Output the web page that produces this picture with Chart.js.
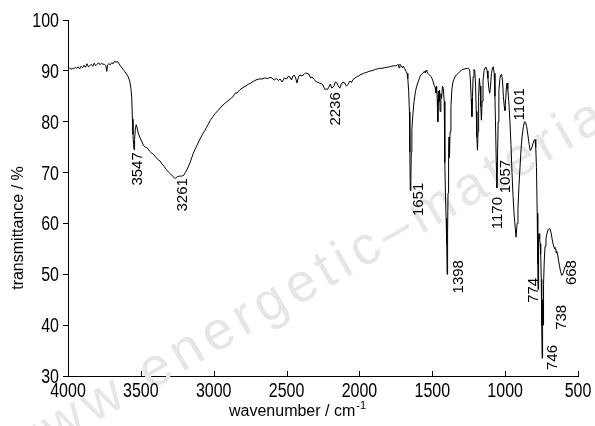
<!DOCTYPE html>
<html>
<head>
<meta charset="utf-8">
<script src="https://cdn.jsdelivr.net/npm/chart.js@4.4.1/dist/chart.umd.min.js"></script>
<style>
  html, body { margin: 0; padding: 0; background: #fff; }
</style>
</head>
<body>
<canvas id="irChart" width="595" height="426"></canvas>
<script>
// IR spectrum (wavenumber in cm-1, transmittance in %)
const wavenumber = [
  4000, 3990, 3980, 3970, 3960, 3950, 3940, 3930, 3920, 3910, 3900, 3890, 3880, 3870, 3860, 3850,
  3840, 3830, 3820, 3810, 3800, 3790, 3780, 3770, 3760, 3750, 3740, 3734, 3728, 3720, 3710, 3700,
  3690, 3680, 3670, 3660, 3650, 3640, 3630, 3620, 3609, 3595, 3586, 3575, 3568, 3563, 3558, 3554,
  3550, 3547, 3543, 3538, 3532, 3526, 3518, 3508, 3495, 3483, 3470, 3460, 3451, 3440, 3425, 3410,
  3400, 3391, 3380, 3369, 3355, 3340, 3325, 3310, 3295, 3279, 3268, 3261, 3250, 3235, 3220, 3205,
  3195, 3183, 3172, 3163, 3150, 3140, 3128, 3117, 3105, 3094, 3083, 3073, 3060, 3050, 3039, 3025,
  3015, 3005, 2990, 2971, 2955, 2936, 2920, 2902, 2885, 2868, 2857, 2850, 2840, 2830, 2820, 2800,
  2780, 2760, 2751, 2730, 2710, 2690, 2670, 2650, 2630, 2614, 2600, 2585, 2570, 2555, 2545, 2530,
  2515, 2500, 2490, 2477, 2466, 2456, 2445, 2436, 2428, 2418, 2408, 2395, 2380, 2370, 2360, 2345,
  2335, 2326, 2310, 2300, 2291, 2275, 2262, 2250, 2240, 2236, 2228, 2220, 2210, 2200, 2189, 2175,
  2165, 2154, 2145, 2134, 2125, 2113, 2100, 2090, 2079, 2065, 2055, 2044, 2030, 2015, 2005, 1996,
  1980, 1965, 1950, 1935, 1920, 1907, 1890, 1875, 1860, 1845, 1830, 1811, 1795, 1780, 1765, 1750,
  1742, 1735, 1728, 1722, 1715, 1710, 1705, 1700, 1690, 1680, 1673, 1668, 1662, 1657, 1654, 1651,
  1647, 1644, 1640, 1633, 1625, 1615, 1607, 1595, 1584, 1575, 1563, 1555, 1549, 1543, 1537, 1530,
  1520, 1510, 1502, 1495, 1488, 1481, 1475, 1470, 1466, 1462, 1458, 1454, 1450, 1446, 1441, 1436,
  1430, 1424, 1418, 1414, 1410, 1405, 1401, 1398, 1395, 1392, 1388, 1385, 1382, 1378, 1372, 1365,
  1358, 1345, 1335, 1323, 1310, 1300, 1289, 1275, 1260, 1250, 1244, 1238, 1233, 1228, 1224, 1220,
  1214, 1208, 1203, 1198, 1194, 1190, 1186, 1182, 1177, 1172, 1167, 1163, 1158, 1152, 1145, 1138,
  1130, 1124, 1118, 1112, 1106, 1100, 1094, 1087, 1081, 1075, 1070, 1065, 1061, 1057, 1053, 1048,
  1043, 1036, 1030, 1024, 1018, 1012, 1006, 1001, 996, 991, 987, 982, 975, 967, 960, 953,
  946, 939, 932, 925, 918, 912, 905, 898, 891, 884, 875, 867, 860, 852, 843, 835,
  829, 823, 816, 808, 800, 795, 790, 785, 780, 776, 774, 772, 769, 766, 763, 760,
  756, 752, 749, 746, 744, 742, 740, 738, 735, 731, 726, 720, 713, 705, 698, 692,
  685, 678, 670, 664, 658, 652, 650, 648, 644, 636, 628, 620, 612, 606, 600, 594,
  589, 583, 577
];
const transmittance = [
  90.4, 90.6, 90.3, 90.5, 90.4, 90.7, 90.5, 90.8, 90.4, 90.9, 90.6, 91.1, 90.7, 91.4, 90.8, 91.0,
  91.3, 90.9, 91.5, 91.0, 91.3, 91.6, 91.2, 91.5, 91.3, 91.3, 91.0, 89.9, 91.2, 91.4, 91.2, 91.6,
  91.4, 91.9, 91.7, 91.8, 91.4, 91.0, 90.6, 90.2, 89.8, 89.2, 88.8, 87.8, 86.5, 84.9, 80.5, 77.5,
  75.5, 74.5, 76.5, 78.5, 79.4, 78.8, 77.8, 77.0, 76.2, 75.4, 75.0, 74.9, 74.7, 74.2, 73.8, 73.5,
  73.1, 72.8, 72.5, 72.3, 71.7, 71.2, 70.6, 70.1, 69.7, 69.2, 68.9, 68.9, 69.2, 69.3, 69.3, 69.5,
  70.0, 70.6, 71.3, 71.9, 73.0, 73.8, 74.6, 75.2, 76.0, 76.6, 77.2, 77.7, 78.3, 78.9, 79.4, 80.2,
  80.6, 81.0, 81.6, 82.2, 82.7, 83.3, 83.7, 84.1, 84.5, 84.9, 85.4, 85.7, 85.6, 86.0, 86.3, 86.7,
  87.0, 87.4, 87.5, 87.9, 88.2, 88.4, 88.4, 88.6, 88.5, 88.7, 88.6, 88.2, 88.5, 88.1, 88.4, 87.8,
  88.6, 88.4, 88.9, 88.8, 88.2, 89.0, 89.1, 88.4, 87.6, 88.9, 89.2, 89.0, 89.3, 89.6, 89.5, 89.3,
  88.6, 88.8, 88.3, 87.9, 87.8, 87.6, 87.5, 87.2, 86.5, 86.3, 86.5, 86.3, 86.8, 87.4, 86.6, 87.0,
  87.8, 87.6, 87.0, 86.6, 87.4, 87.8, 87.6, 87.0, 87.3, 88.0, 87.7, 88.3, 88.6, 88.9, 89.0, 89.2,
  89.4, 89.6, 89.7, 89.9, 90.0, 90.1, 90.3, 90.4, 90.5, 90.5, 90.6, 90.7, 90.8, 90.9, 91.0, 91.0,
  91.1, 91.3, 90.6, 91.3, 91.0, 90.9, 90.6, 90.9, 90.5, 89.9, 89.5, 88.5, 86.0, 82.0, 74.0, 66.5,
  68.5, 74.0, 78.5, 81.5, 84.0, 86.0, 87.0, 88.0, 88.9, 89.3, 89.6, 89.9, 89.6, 90.1, 89.9, 89.5,
  89.2, 88.9, 88.5, 88.0, 87.2, 86.8, 85.7, 87.0, 84.5, 80.0, 86.0, 84.0, 86.2, 82.0, 85.5, 84.6,
  87.0, 86.5, 84.0, 72.0, 66.0, 61.0, 56.0, 50.0, 58.0, 66.0, 74.0, 77.0, 73.0, 78.0, 83.0, 86.5,
  87.8, 88.8, 89.2, 89.5, 89.9, 90.1, 90.3, 90.4, 90.5, 90.5, 90.2, 88.0, 84.5, 81.0, 85.0, 88.8,
  90.3, 90.0, 87.0, 82.0, 77.0, 74.4, 78.0, 85.0, 88.5, 87.0, 83.0, 80.3, 84.0, 88.0, 90.0, 90.6,
  90.7, 90.0, 88.5, 86.5, 85.6, 87.0, 89.5, 90.6, 90.8, 89.5, 85.0, 78.0, 72.0, 67.0, 72.0, 80.0,
  86.0, 88.5, 89.2, 89.3, 88.0, 85.0, 83.0, 82.2, 84.5, 87.0, 87.6, 86.5, 84.0, 80.0, 75.5, 70.0,
  65.5, 62.0, 59.5, 57.3, 60.0, 63.0, 67.5, 71.0, 74.5, 77.0, 79.0, 80.0, 79.9, 79.0, 77.2, 75.5,
  74.4, 74.5, 75.0, 75.8, 76.4, 76.5, 75.0, 71.0, 62.0, 52.0, 47.0, 53.0, 57.5, 58.0, 57.0, 56.0,
  54.0, 49.0, 40.0, 33.5, 38.0, 45.0, 42.0, 40.0, 48.0, 53.0, 55.5, 57.0, 58.0, 58.8, 59.0, 58.9,
  58.2, 57.0, 55.8, 55.3, 55.0, 55.0, 54.2, 54.4, 54.5, 53.2, 51.8, 50.6, 49.8, 49.9, 50.4, 51.0,
  51.5, 51.8, 52.1
];

// peak annotations: text, and where the top of the rotated text sits (data units)
const peakLabels = ['3547', '3261', '2236', '1651', '1398', '1170', '1057', '1101', '774', '746', '738', '668'];
const peakLabelWn = [3523, 3214, 2161, 1591, 1320, 1052, 994, 898, 802, 675, 613, 541];
const peakLabelT = [74.0, 68.9, 85.8, 68.0, 52.8, 65.2, 72.5, 86.6, 49.3, 36.1, 44.0, 52.8];

const xTicks = [4000, 3500, 3000, 2500, 2000, 1500, 1000, 500];
const yTicks = [30, 40, 50, 60, 70, 80, 90, 100];

const FONT = "'Liberation Sans', Arial, sans-serif";
const TICK_FONT = '20px ' + FONT;
const SQUEEZE = 0.8; // tick numbers in the original are tall and narrow

// light grey watermark running across the plot
const watermarkPlugin = {
  id: 'watermark',
  beforeDatasetsDraw(chart) {
    const ctx = chart.ctx;
    const text = 'www.energetic\u2013materials.org';
    const gap = 6;
    ctx.save();
    ctx.font = '54px ' + FONT;
    ctx.fillStyle = '#e6e6e6';
    ctx.textBaseline = 'alphabetic';
    const ang = -30 * Math.PI / 180;
    const dx = Math.cos(ang), dy = Math.sin(ang);
    // baseline start of the "e" after "www."
    const ox = 148, oy = 392;
    let d = -(ctx.measureText('www.').width + 4 * gap);
    for (const ch of text) {
      const w = ctx.measureText(ch).width;
      ctx.save();
      ctx.translate(ox + dx * d, oy + dy * d);
      ctx.rotate(ang);
      ctx.fillText(ch, 0, 0);
      ctx.restore();
      d += w + gap;
    }
    ctx.restore();
  }
};

function squeezedText(ctx, txt, x, y, align) {
  const w = ctx.measureText(txt).width * SQUEEZE;
  let left = x;
  if (align === 'center') left = x - w / 2;
  if (align === 'right') left = x - w;
  ctx.save();
  ctx.translate(left, y);
  ctx.scale(SQUEEZE, 1);
  ctx.textAlign = 'left';
  ctx.fillText(txt, 0, 0);
  ctx.restore();
}

// tick numbers, inward x ticks, peak labels and axis titles
const decorPlugin = {
  id: 'decor',
  afterDraw(chart) {
    const ctx = chart.ctx;
    const xs = chart.scales.x, ys = chart.scales.y;
    const area = chart.chartArea;
    ctx.save();
    ctx.strokeStyle = '#000';
    ctx.lineWidth = 1;
    xTicks.forEach(v => {
      const px = Math.round(xs.getPixelForValue(v)) + 0.5;
      ctx.beginPath();
      ctx.moveTo(px, area.bottom);
      ctx.lineTo(px, area.bottom - 5);
      ctx.stroke();
    });

    ctx.fillStyle = '#000';
    ctx.font = TICK_FONT;
    ctx.textBaseline = 'alphabetic';
    xTicks.forEach(v => {
      squeezedText(ctx, String(v), xs.getPixelForValue(v), area.bottom + 21, 'center');
    });
    yTicks.forEach(v => {
      squeezedText(ctx, String(v), area.left - 9, ys.getPixelForValue(v) + 7, 'right');
    });

    ctx.font = '15px ' + FONT;
    ctx.textAlign = 'right';
    ctx.textBaseline = 'middle';
    peakLabels.forEach((t, i) => {
      const px = xs.getPixelForValue(peakLabelWn[i]);
      const py = ys.getPixelForValue(peakLabelT[i]);
      ctx.save();
      ctx.translate(px, py);
      ctx.rotate(-Math.PI / 2);
      ctx.fillText(t, 0, 0);
      ctx.restore();
    });

    // y title
    ctx.font = '16px ' + FONT;
    ctx.textAlign = 'center';
    ctx.textBaseline = 'middle';
    ctx.save();
    ctx.translate(19, 228);
    ctx.rotate(-Math.PI / 2);
    ctx.fillText('transmittance / %', 0, 0);
    ctx.restore();

    // x title with superscript
    const main = 'wavenumber / cm';
    ctx.font = '16px ' + FONT;
    const w1 = ctx.measureText(main).width;
    ctx.font = '11px ' + FONT;
    const w2 = ctx.measureText('-1').width;
    const x0 = 297 - (w1 + w2) / 2;
    ctx.textAlign = 'left';
    ctx.textBaseline = 'alphabetic';
    ctx.font = '16px ' + FONT;
    ctx.fillText(main, x0, 416);
    ctx.font = '11px ' + FONT;
    ctx.fillText('-1', x0 + w1 + 1, 409);
    ctx.restore();
  }
};

new Chart(document.getElementById('irChart'), {
  type: 'line',
  data: {
    datasets: [{
      data: wavenumber.map((w, i) => ({ x: w, y: transmittance[i] })),
      borderColor: '#000',
      borderWidth: 1,
      pointRadius: 0,
      tension: 0
    }]
  },
  options: {
    responsive: false,
    animation: false,
    devicePixelRatio: 1,
    layout: { padding: { top: 20, right: 17, left: 0, bottom: 0 } },
    plugins: { legend: { display: false }, tooltip: { enabled: false } },
    scales: {
      x: {
        type: 'linear',
        reverse: true,
        min: 500,
        max: 4000,
        afterBuildTicks: s => { s.ticks = xTicks.map(v => ({ value: v })); },
        afterFit: s => { s.height = 50; },
        grid: { display: true, drawOnChartArea: false, drawTicks: false },
        border: { display: true, color: '#000', width: 1 },
        ticks: { display: false }
      },
      y: {
        min: 30,
        max: 100,
        afterBuildTicks: s => { s.ticks = yTicks.map(v => ({ value: v })); },
        afterFit: s => { s.width = 68; },
        grid: { display: true, drawOnChartArea: false, drawTicks: true, tickLength: 5, color: '#000' },
        border: { display: true, color: '#000', width: 1 },
        ticks: { display: false }
      }
    }
  },
  plugins: [watermarkPlugin, decorPlugin]
});
</script>
</body>
</html>
